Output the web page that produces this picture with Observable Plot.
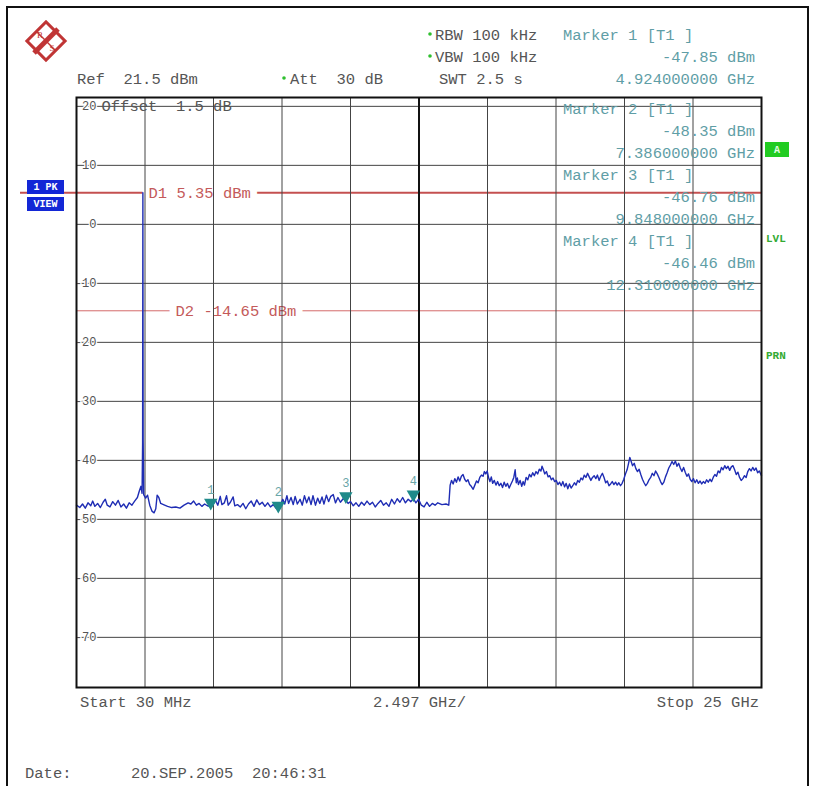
<!DOCTYPE html>
<html>
<head>
<meta charset="utf-8">
<script src="https://cdn.jsdelivr.net/npm/d3@7"></script>
<script src="https://cdn.jsdelivr.net/npm/@observablehq/plot@0.6"></script>
<style>
  html, body { margin: 0; padding: 0; background: #fff; }
  #wrap { position: relative; width: 814px; height: 786px; overflow: hidden; background: #fff; }
  #wrap > * { position: absolute; left: 0; top: 0; }
  #border { left: 6px; top: 6px; width: 803px; height: 800px; border: 2px solid #111; box-sizing: border-box; }
</style>
</head>
<body>
<div id="wrap"><div id="border"></div></div>
<script>
// ---------------- data ----------------
const startGHz = 0.03;
const stopGHz = 25;
const refLevel = 21.5;
const bottomLevel = -78.5;
const yTicks = [20, 10, 0, -10, -20, -30, -40, -50, -60, -70];
const xGrid = [2.527, 5.024, 7.521, 10.018, 12.515, 15.012, 17.509, 20.006, 22.503];
const xCenter = 12.515;
const displayLines = [
  {name: "D1", level: 5.35},
  {name: "D2", level: -14.65}
];
const markerNums = [1, 2, 3, 4];
const markerFreqs = [4.924, 7.386, 9.848, 12.310];
const markerLevels = [-47.85, -48.35, -46.76, -46.46];
const headerLeft = ["Ref  21.5 dBm", "Att  30 dB"];
const headerMid = ["RBW 100 kHz", "VBW 100 kHz", "SWT 2.5 s"];
const footer = ["Start 30 MHz", "2.497 GHz/", "Stop 25 GHz"];
const dateText = ["Date:", "20.SEP.2005  20:46:31"];
const offsetText = "Offset  1.5 dB";
const sideLabels = ["A", "LVL", "PRN"];
const traceLabels = ["1 PK", "VIEW"];

// trace: [frequency GHz, level dBm]
const trace = [
  [0.03,-47.6],[0.15,-48.0],[0.25,-47.4],[0.35,-48.1],[0.45,-47.2],[0.55,-47.7],[0.62,-46.9],[0.7,-47.8],
  [0.8,-47.3],[0.9,-48.0],[1.0,-47.1],[1.08,-46.6],[1.15,-47.6],[1.25,-47.9],[1.35,-47.0],[1.45,-47.6],
  [1.55,-46.8],[1.65,-47.9],[1.75,-47.4],[1.85,-48.1],[1.95,-47.2],[2.05,-47.6],[2.15,-46.9],[2.25,-46.3],
  [2.32,-45.2],[2.38,-44.4],[2.42,-45.6],[2.44,-37.0],[2.45,5.35],[2.46,-36.5],[2.48,-45.8],[2.55,-46.4],
  [2.62,-45.9],[2.7,-47.6],[2.78,-48.6],[2.86,-48.9],[2.92,-48.2],[2.97,-45.9],[3.03,-46.3],[3.1,-47.3],
  [3.2,-47.5],[3.35,-47.8],[3.5,-48.0],[3.65,-47.9],[3.8,-48.1],[3.95,-47.6],[4.1,-47.2],[4.2,-47.4],
  [4.3,-46.9],[4.4,-47.6],[4.5,-47.3],[4.6,-47.8],[4.7,-47.4],[4.8,-47.7],[4.924,-47.85],[5.0,-47.5],
  [5.1,-46.8],[5.18,-47.6],[5.27,-46.1],[5.33,-47.5],[5.42,-47.2],[5.5,-46.0],[5.56,-47.6],[5.64,-47.1],
  [5.74,-46.2],[5.8,-47.7],[5.9,-47.5],[6.0,-47.9],[6.1,-47.3],[6.2,-48.2],[6.3,-47.4],[6.4,-46.9],
  [6.5,-47.8],[6.6,-46.7],[6.7,-47.5],[6.8,-47.1],[6.9,-47.8],[7.0,-47.2],[7.1,-47.9],[7.2,-47.5],
  [7.3,-48.1],[7.386,-48.35],[7.45,-47.8],[7.55,-46.6],[7.62,-47.4],[7.7,-46.0],[7.76,-47.3],[7.85,-46.3],
  [7.93,-47.5],[8.0,-46.1],[8.08,-47.4],[8.18,-46.6],[8.26,-47.6],[8.34,-46.0],[8.42,-47.2],[8.5,-46.2],
  [8.58,-47.5],[8.65,-46.0],[8.74,-47.6],[8.82,-46.4],[8.9,-47.3],[8.98,-46.2],[9.05,-47.4],[9.14,-45.9],
  [9.22,-47.0],[9.3,-46.1],[9.39,-45.8],[9.47,-47.2],[9.56,-46.3],[9.65,-47.1],[9.75,-46.5],[9.848,-46.76],
  [9.93,-47.3],[10.02,-47.0],[10.12,-47.7],[10.22,-47.2],[10.32,-47.8],[10.42,-47.1],[10.52,-47.6],[10.62,-46.9],
  [10.72,-47.5],[10.82,-47.1],[10.92,-47.9],[11.02,-47.3],[11.12,-46.8],[11.22,-47.6],[11.32,-47.2],[11.42,-47.8],
  [11.52,-46.6],[11.62,-47.4],[11.72,-46.5],[11.82,-47.1],[11.92,-46.3],[12.02,-47.2],[12.12,-46.6],[12.22,-47.0],
  [12.31,-46.46],[12.4,-47.2],[12.5,-46.6],[12.6,-47.6],[12.7,-47.9],[12.8,-47.1],[12.9,-47.8],[13.0,-47.3],
  [13.1,-47.6],[13.2,-47.2],[13.35,-47.5],[13.5,-47.4],[13.6,-47.6],
  [13.65,-44.2],[13.7,-43.4],[13.76,-44.0],[13.82,-43.1],[13.88,-43.7],[13.94,-42.8],[14.0,-43.5],[14.06,-42.7],
  [14.12,-42.4],[14.18,-43.2],[14.24,-43.6],[14.3,-43.3],[14.36,-44.1],[14.42,-44.4],[14.49,-44.9],[14.55,-44.2],
  [14.61,-43.5],[14.67,-43.8],[14.73,-42.9],[14.79,-42.5],[14.85,-42.7],[14.9,-41.9],[14.95,-42.3],[15.0,-41.8],
  [15.05,-42.9],[15.1,-43.6],[15.15,-42.8],[15.2,-43.9],[15.26,-43.4],[15.32,-44.2],[15.38,-43.6],[15.44,-44.3],
  [15.5,-43.9],[15.56,-44.6],[15.62,-43.7],[15.68,-44.4],[15.74,-43.9],[15.8,-44.7],[15.86,-44.1],[15.92,-43.5],
  [15.97,-42.9],[16.02,-41.6],[16.06,-43.8],[16.1,-43.0],[16.14,-44.1],[16.2,-43.4],[16.26,-44.4],[16.31,-43.6],
  [16.36,-44.2],[16.42,-42.9],[16.48,-43.3],[16.54,-42.4],[16.6,-42.8],[16.66,-42.1],[16.72,-42.6],[16.78,-41.9],
  [16.84,-42.3],[16.9,-41.5],[16.96,-41.8],[17.0,-41.0],[17.05,-41.6],[17.1,-42.3],[17.16,-41.9],[17.22,-42.8],
  [17.28,-42.6],[17.34,-43.3],[17.4,-43.0],[17.46,-43.6],[17.52,-43.4],[17.58,-44.1],[17.64,-43.7],[17.7,-44.3],
  [17.76,-43.6],[17.82,-44.5],[17.88,-43.9],[17.94,-44.8],[18.0,-44.0],[18.06,-44.7],[18.12,-44.3],[18.18,-43.8],
  [18.24,-44.2],[18.3,-43.4],[18.36,-43.7],[18.42,-43.0],[18.48,-43.3],[18.54,-42.5],[18.6,-42.9],[18.66,-42.2],
  [18.72,-42.8],[18.78,-43.4],[18.84,-42.9],[18.9,-42.6],[18.96,-43.1],[19.02,-42.5],[19.08,-43.4],[19.14,-42.7],
  [19.2,-42.2],[19.26,-42.9],[19.32,-43.8],[19.38,-43.5],[19.44,-44.3],[19.5,-44.0],[19.56,-43.6],[19.62,-44.1],
  [19.68,-43.7],[19.74,-44.2],[19.8,-43.8],[19.86,-44.3],[19.92,-43.9],[19.98,-43.2],[20.04,-42.3],[20.1,-41.6],
  [20.15,-40.6],[20.2,-39.5],[20.25,-40.2],[20.3,-40.9],[20.36,-40.5],[20.42,-41.4],[20.48,-41.9],[20.54,-41.5],
  [20.6,-42.4],[20.66,-43.2],[20.72,-43.8],[20.78,-44.3],[20.84,-43.9],[20.9,-43.3],[20.96,-42.9],[21.02,-42.2],
  [21.08,-42.6],[21.14,-41.8],[21.2,-42.3],[21.26,-42.9],[21.32,-43.6],[21.38,-44.1],[21.44,-43.7],[21.5,-42.8],
  [21.56,-42.1],[21.62,-41.3],[21.68,-40.8],[21.74,-40.2],[21.8,-40.7],[21.86,-40.1],[21.92,-41.0],[21.98,-40.5],
  [22.04,-41.3],[22.1,-41.9],[22.16,-41.2],[22.22,-42.0],[22.28,-42.7],[22.34,-42.3],[22.4,-43.2],[22.46,-43.6],
  [22.52,-43.1],[22.58,-43.8],[22.64,-43.3],[22.7,-43.9],[22.76,-43.5],[22.82,-44.0],[22.88,-43.6],[22.94,-43.9],
  [23.0,-43.3],[23.06,-43.7],[23.12,-43.2],[23.18,-43.6],[23.24,-42.9],[23.3,-42.4],[23.36,-42.7],[23.42,-41.8],
  [23.48,-42.1],[23.54,-41.2],[23.6,-41.6],[23.66,-40.9],[23.72,-41.4],[23.78,-41.0],[23.84,-41.7],[23.9,-41.1],
  [23.96,-40.9],[24.02,-41.6],[24.08,-42.4],[24.14,-42.0],[24.2,-42.9],[24.26,-43.4],[24.32,-43.1],[24.38,-42.6],
  [24.44,-42.9],[24.5,-41.9],[24.56,-41.4],[24.62,-41.8],[24.68,-41.2],[24.74,-41.7],[24.8,-41.3],[24.86,-42.1],
  [24.92,-41.8],[25.0,-42.6]
];

// ---------------- chart ----------------
const FONT = "'Liberation Mono', 'DejaVu Sans Mono', monospace";
const markers = markerNums.map((n, i) => ({n, f: markerFreqs[i], v: markerLevels[i]}));
const W = 814, H = 786;
const redLine = "#c45050";
const labelOffsets = {D1: 72, D2: 99};

const chart = Plot.plot({
  width: W, height: H,
  marginLeft: 76, marginRight: 53, marginTop: 97, marginBottom: 99,
  x: {domain: [startGHz, stopGHz], axis: null},
  y: {domain: [bottomLevel, refLevel], axis: null},
  style: {fontFamily: FONT, background: "transparent", overflow: "visible"},
  marks: [
    Plot.ruleY(yTicks, {stroke: "#444", strokeWidth: 1}),
    Plot.ruleY([displayLines[0].level], {stroke: redLine, strokeWidth: 2, insetLeft: -56}),
    Plot.ruleY([displayLines[1].level], {stroke: "#d46a6a", strokeWidth: 1}),
    ...displayLines.map(d => Plot.text([d], {
      y: "level", frameAnchor: "left", textAnchor: "start", dx: labelOffsets[d.name],
      text: d => `${d.name} ${d.level.toFixed(2)} dBm`,
      fontSize: 15.5, fill: "#c45a5a", stroke: "white", strokeWidth: 14
    })),
    Plot.ruleX(xGrid.filter(d => d !== xCenter), {stroke: "#444", strokeWidth: 1}),
    Plot.ruleX([xCenter], {stroke: "#111", strokeWidth: 2}),
    Plot.text(yTicks, {
      y: d => d, frameAnchor: "left", textAnchor: "end", dx: 20,
      text: d => String(d), fontSize: 12, fill: "#555", stroke: "white", strokeWidth: 2.5
    }),
    Plot.text([refLevel], {
      y: yTicks[0], frameAnchor: "left", textAnchor: "start", dx: 25,
      text: () => offsetText, fontSize: 15.5, fill: "#555"
    }),
    Plot.line(trace, {x: d => d[0], y: d => d[1], stroke: "#1f2db4", strokeWidth: 1.4}),
    Plot.dot(markers, {x: "f", y: "v", symbol: "triangle", rotate: 180, r: 5, fill: "#1f8a8a", stroke: "none", dy: -4}),
    Plot.text(markers, {x: "f", y: "v", text: d => String(d.n), dy: -17, fontSize: 12, fill: "#6aa6a8"}),
    Plot.frame({stroke: "#111", strokeWidth: 2})
  ]
});
document.getElementById("wrap").appendChild(chart);

// ---------------- annotations (text outside/over the grid) ----------------
const svg = d3.select("#wrap").append("svg")
  .attr("width", W).attr("height", H)
  .style("font-family", FONT).style("pointer-events", "none");

function t(str, x, y, opts = {}) {
  return svg.append("text")
    .attr("x", x).attr("y", y)
    .attr("dominant-baseline", "central")
    .attr("text-anchor", opts.anchor || "start")
    .attr("font-size", opts.size || 15.5)
    .attr("fill", opts.color || "#555")
    .attr("font-weight", opts.weight || "normal")
    .style("white-space", "pre")
    .attr("xml:space", "preserve")
    .text(str);
}
const green = "#2fbf2f";
const teal = "#5f9ea6";

// header
t(headerLeft[0], 77, 80);
svg.append("circle").attr("cx", 284).attr("cy", 78).attr("r", 1.8).attr("fill", green);
t(headerLeft[1], 290, 80);
svg.append("circle").attr("cx", 430).attr("cy", 34).attr("r", 1.8).attr("fill", green);
svg.append("circle").attr("cx", 430).attr("cy", 56).attr("r", 1.8).attr("fill", green);
t(headerMid[0], 435, 36);
t(headerMid[1], 435, 58);
t(headerMid[2], 439, 80);

// marker readouts
const readY = [[36, 58, 80], [110, 132, 154], [176, 198, 220], [242, 264, 286]];
markers.forEach((m, i) => {
  const [y0, y1, y2] = readY[i];
  t(`Marker ${m.n} [T1 ]`, 563, y0, {color: teal});
  t(`${m.v.toFixed(2)} dBm`, 755, y1, {anchor: "end", color: teal});
  t(`${m.f.toFixed(9)} GHz`, 755, y2, {anchor: "end", color: teal});
});

// footer
t(footer[0], 80, 703);
t(footer[1], 373, 703);
t(footer[2], 759, 703, {anchor: "end"});
t(dateText[0], 25, 774);
t(dateText[1], 131, 774);

// left trace labels
[[180, traceLabels[0]], [197, traceLabels[1]]].forEach(([y, s]) => {
  svg.append("rect").attr("x", 27).attr("y", y).attr("width", 37).attr("height", 14).attr("fill", "#1327d6");
  t(s, 45.5, y + 7.5, {anchor: "middle", size: 10, color: "#fff", weight: "bold"});
});

// right side labels
svg.append("rect").attr("x", 765).attr("y", 142).attr("width", 24).attr("height", 15).attr("fill", "#22cc22");
t(sideLabels[0], 777, 150, {anchor: "middle", size: 10, color: "#e8ffe8", weight: "bold"});
t(sideLabels[1], 766, 239, {size: 11, color: "#33aa33", weight: "bold"});
t(sideLabels[2], 766, 356, {size: 11, color: "#33aa33", weight: "bold"});

// logo
const logo = svg.append("g").attr("transform", "translate(46,41)");
logo.append("rect").attr("x", -13.5).attr("y", -13.5).attr("width", 27).attr("height", 27)
  .attr("transform", "rotate(45)").attr("fill", "none").attr("stroke", "#c03535").attr("stroke-width", 3);
logo.append("line").attr("x1", -12).attr("y1", 12).attr("x2", 12).attr("y2", -12)
  .attr("stroke", "#c03535").attr("stroke-width", 5);
logo.append("line").attr("x1", -9).attr("y1", -9).attr("x2", 9).attr("y2", 9)
  .attr("stroke", "#c03535").attr("stroke-width", 1.5);
logo.append("text").attr("x", -6).attr("y", -3).attr("font-size", 9).attr("fill", "#c03535")
  .attr("text-anchor", "middle").attr("font-family", "Liberation Serif").text("R");
logo.append("text").attr("x", 6).attr("y", 10).attr("font-size", 9).attr("fill", "#c03535")
  .attr("text-anchor", "middle").attr("font-family", "Liberation Serif").text("S");
</script>
</body>
</html>
